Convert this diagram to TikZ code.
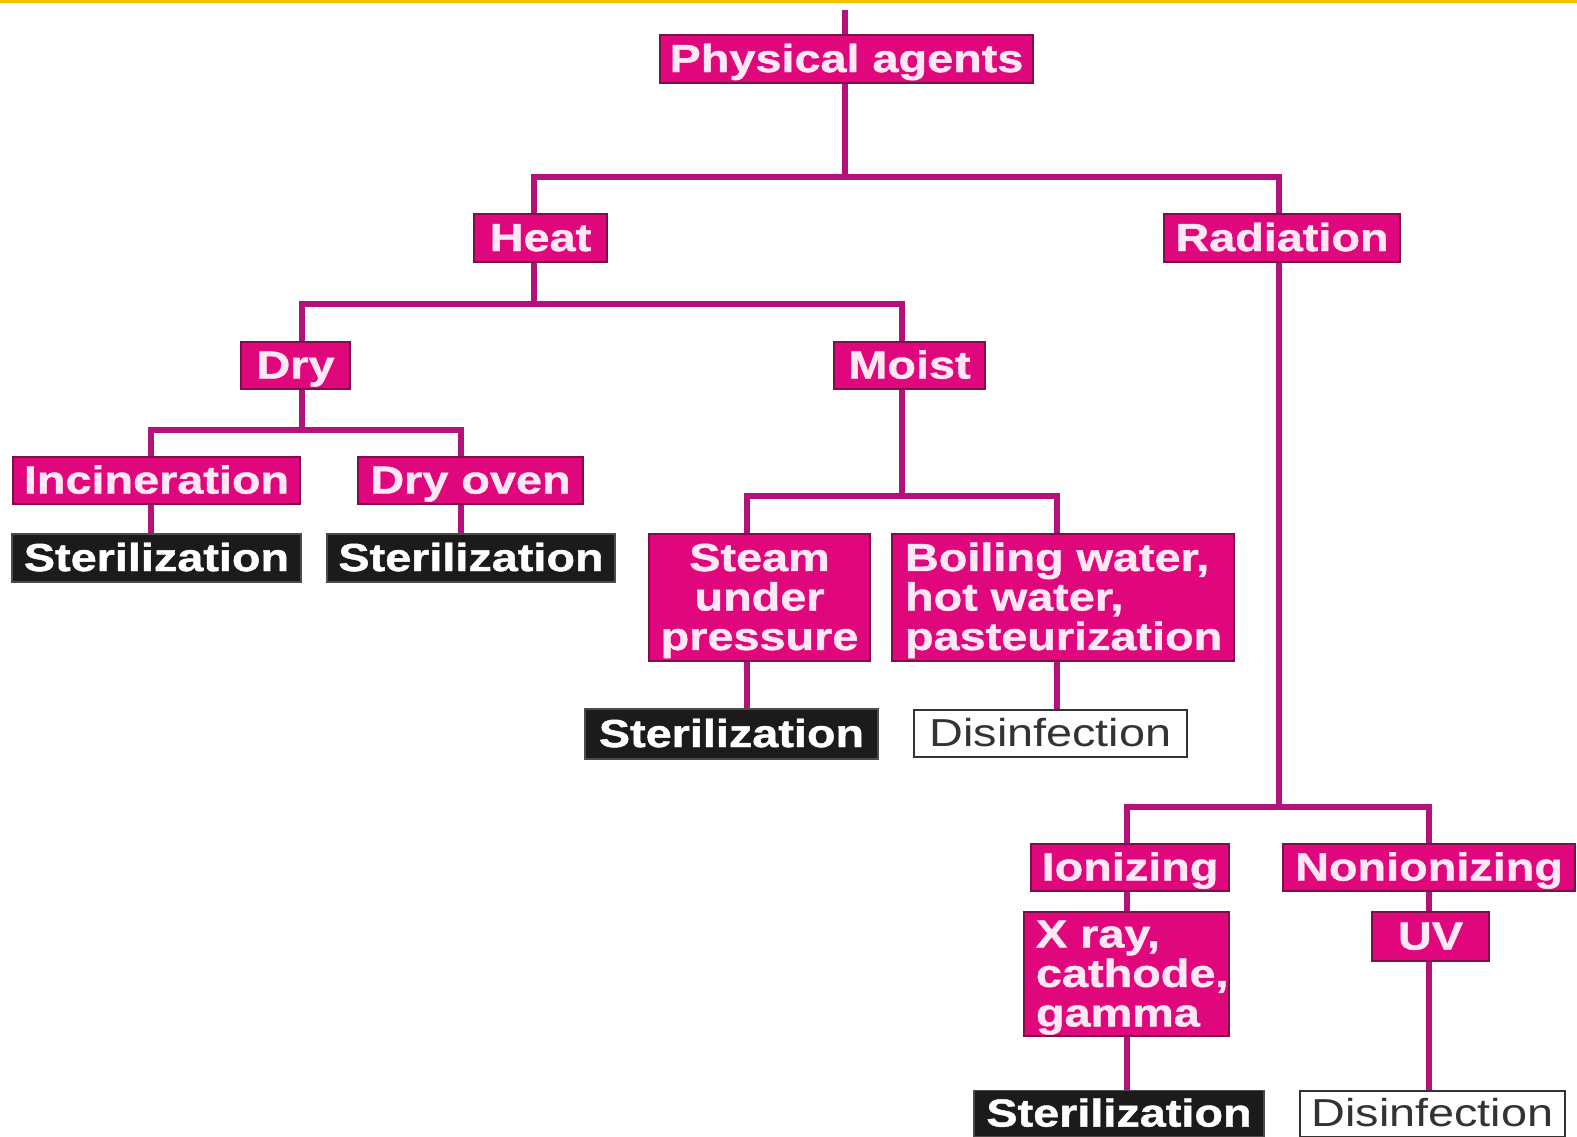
\documentclass[tikz,border=0pt]{standalone}
\usepackage{fontspec}
\newfontfamily\lsans{Liberation Sans}[FakeStretch=1.2, BoldFeatures={FakeBold=1.2}]
\definecolor{pinkfill}{HTML}{E0077D}
\definecolor{pinkedge}{HTML}{7A1249}
\definecolor{linkc}{HTML}{B3127A}
\definecolor{darkbox}{HTML}{1D1A1B}
\definecolor{pinktext}{HTML}{FFE8F4}
\definecolor{topline}{HTML}{F5C400}
\pgfdeclarelayer{back}
\pgfdeclarelayer{bg}
\pgfsetlayers{back,bg,main}
\begin{document}
\begin{tikzpicture}[x=1pt,y=-1pt,
  box/.style={draw=pinkedge, line width=2.5pt, fill=pinkfill, text=pinktext, inner sep=0pt,
    font=\lsans\bfseries\fontsize{39}{39.5}\selectfont, minimum height=48pt},
  one/.style={text height=31pt, text depth=5pt},
  sterbox/.style={draw=black!70, line width=1.5pt, fill=darkbox, text=white, inner sep=0pt,
    font=\lsans\bfseries\fontsize{39}{39.5}\selectfont, minimum height=48pt, one},
  disbox/.style={draw=black!80, line width=2pt, fill=white, text=black!80, inner sep=0pt,
    font=\lsans\fontsize{39}{39.5}\selectfont, minimum height=47pt, one},
  conn/.style={draw=linkc, line width=5.5pt, line join=miter}]
\useasboundingbox (0,0) rectangle (1577,1136);
\begin{pgfonlayer}{back}
\fill[white] (0,0) rectangle (1577,1136);
\fill[topline] (0,0) rectangle (1577,2.5);
\end{pgfonlayer}

% nodes
\node[box, one, minimum width=373pt] (phys) at (846.5,59) {Physical agents};
\node[box, one, minimum width=133pt] (heat) at (540.5,238) {Heat};
\node[box, one, minimum width=236pt] (rad) at (1282,238) {Radiation};
\node[box, one, minimum width=109pt, minimum height=47pt] (dry) at (295.5,365.5) {Dry};
\node[box, one, minimum width=151pt, minimum height=47pt] (moist) at (909.5,365.5) {Moist};
\node[box, one, minimum width=287pt, minimum height=47pt] (incin) at (156.5,480.5) {Incineration};
\node[box, one, minimum width=225pt, minimum height=47pt] (dryoven) at (470.5,480.5) {Dry oven};
\node[sterbox, minimum width=289pt] (ster1) at (156.5,558) {Sterilization};
\node[sterbox, minimum width=288pt] (ster2) at (471,558) {Sterilization};
\node[box, minimum width=221pt, minimum height=127pt, align=center] (steam) at (759.5,597.5) {\rule{0pt}{34pt}Steam\\under\\pressure};
\node[box, text width=316pt, inner xsep=13pt, minimum height=127pt, align=left] (boil) at (1063,597.5) {\rule{0pt}{34pt}Boiling water,\\hot water,\\pasteurization};
\node[sterbox, minimum width=293pt, minimum height=50pt] (ster3) at (731.5,734) {Sterilization};
\node[disbox, minimum width=273pt] (dis1) at (1050.5,733.5) {Disinfection};
\node[box, one, minimum width=198pt, minimum height=47pt] (ion) at (1130,867.5) {Ionizing};
\node[box, one, minimum width=292pt, minimum height=47pt] (nonion) at (1429,867.5) {Nonionizing};
\node[box, text width=181pt, inner xsep=12pt, minimum height=124pt, align=left] (xray) at (1126.5,974) {\rule{0pt}{34pt}X ray,\\cathode,\\gamma};
\node[box, one, minimum width=117pt, minimum height=49pt] (uv) at (1430.5,936.5) {UV};
\node[sterbox, minimum width=290pt, minimum height=46pt] (ster4) at (1119,1113.5) {Sterilization};
\node[disbox, minimum width=265pt, minimum height=46pt] (dis2) at (1432.5,1113.5) {Disinfection};

% connectors
\coordinate (c0) at (845,10);
\coordinate (b1) at (845,177); \coordinate (b1l) at (534,177); \coordinate (b1r) at (1279,177);
\coordinate (b2) at (534,304); \coordinate (b2l) at (302,304); \coordinate (b2r) at (902,304);
\coordinate (b3) at (302,430); \coordinate (b3l) at (151,430); \coordinate (b3r) at (461,430);
\coordinate (b4) at (902,496); \coordinate (b4l) at (747,496); \coordinate (b4r) at (1057,496);
\coordinate (b5) at (1279,807); \coordinate (b5l) at (1127,807); \coordinate (b5r) at (1429,807);
\begin{pgfonlayer}{bg}
\draw[conn] (c0) -- (phys.north -| c0);
\draw[conn] (phys.south -| b1) -- (b1);
\draw[conn] (heat.north -| b1l) -- (b1l) -- (b1r) -- (rad.north -| b1r);
\draw[conn] (heat.south -| b2) -- (b2);
\draw[conn] (dry.north -| b2l) -- (b2l) -- (b2r) -- (moist.north -| b2r);
\draw[conn] (dry.south -| b3) -- (b3);
\draw[conn] (incin.north -| b3l) -- (b3l) -- (b3r) -- (dryoven.north -| b3r);
\draw[conn] (incin.south -| b3l) -- (ster1.north -| b3l);
\draw[conn] (dryoven.south -| b3r) -- (ster2.north -| b3r);
\draw[conn] (moist.south -| b4) -- (b4);
\draw[conn] (steam.north -| b4l) -- (b4l) -- (b4r) -- (boil.north -| b4r);
\draw[conn] (steam.south -| b4l) -- (ster3.north -| b4l);
\draw[conn] (boil.south -| b4r) -- (dis1.north -| b4r);
\draw[conn] (rad.south -| b5) -- (b5);
\draw[conn] (ion.north -| b5l) -- (b5l) -- (b5r) -- (nonion.north -| b5r);
\draw[conn] (ion.south -| b5l) -- (xray.north -| b5l);
\draw[conn] (xray.south -| b5l) -- (ster4.north -| b5l);
\draw[conn] (nonion.south -| b5r) -- (uv.north -| b5r);
\draw[conn] (uv.south -| b5r) -- (dis2.north -| b5r);
\end{pgfonlayer}
\end{tikzpicture}
\end{document}
